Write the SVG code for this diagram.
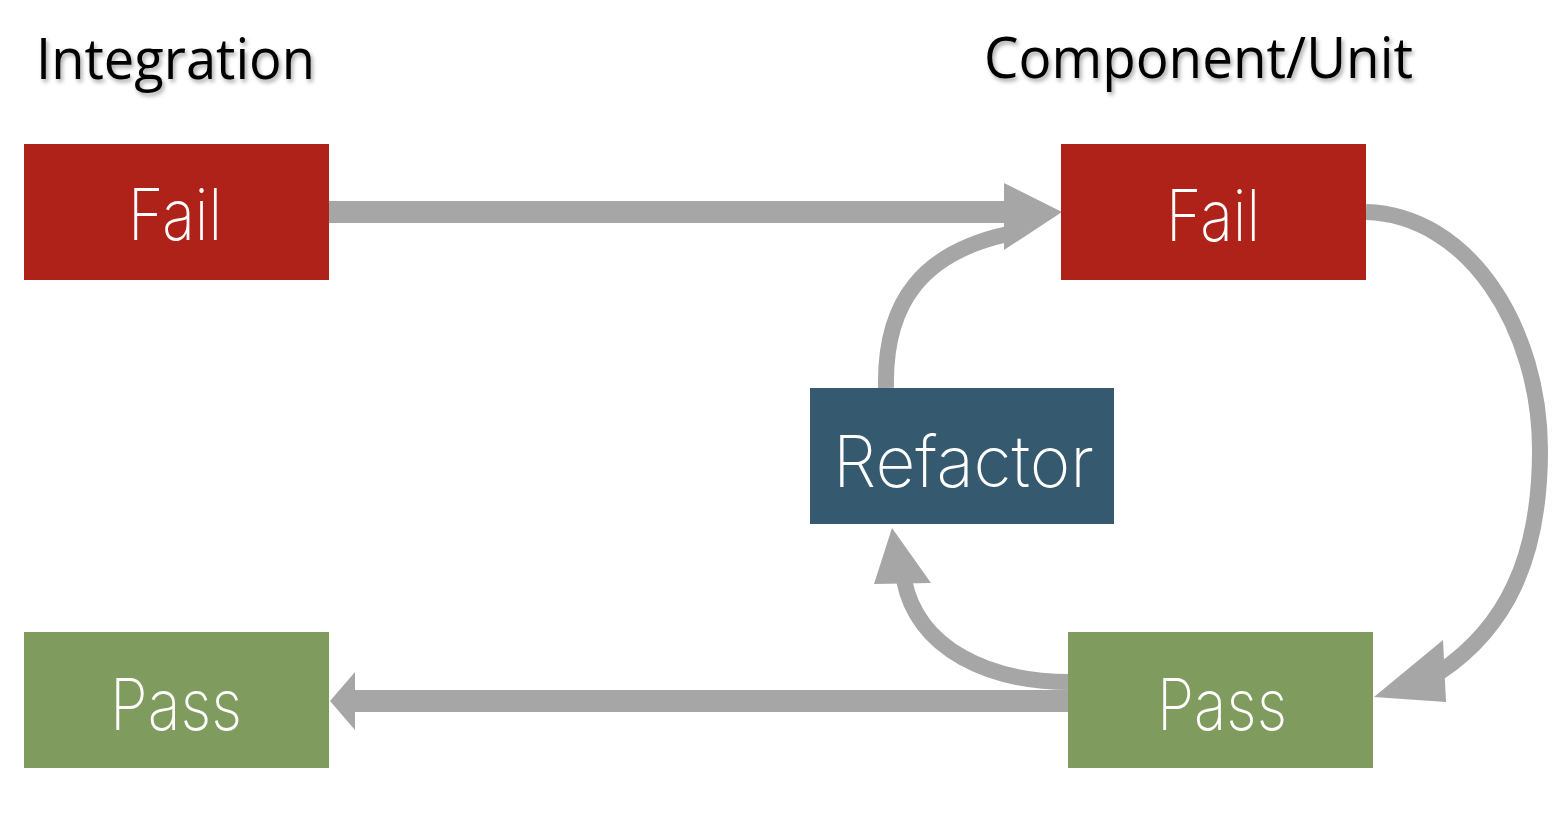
<svg xmlns="http://www.w3.org/2000/svg" width="1566" height="820" viewBox="0 0 1566 820">
<defs>
<filter id="shadow" x="-10%" y="-30%" width="120%" height="160%">
<feDropShadow dx="2" dy="3" stdDeviation="2" flood-color="#000" flood-opacity="0.35"/>
</filter>
</defs>
<style>
.title{font-family:"Open Sans","Liberation Sans",sans-serif;font-size:57px;fill:#000;filter:url(#shadow)}
.lbl{font-family:Inter,"Open Sans","Liberation Sans",sans-serif;font-weight:200;font-size:72px;fill:#fff}
.fail{fill:#AF2219}
.pass{fill:#7F9B5D}
.refac{fill:#355A6F}
.shaft{fill:none;stroke:#A6A6A6;stroke-width:16}
.head{fill:#A6A6A6}
.bar{fill:#A6A6A6}
</style>
<rect width="1566" height="820" fill="#fff"/>
<text class="title" x="36" y="79" textLength="279" lengthAdjust="spacingAndGlyphs">Integration</text>
<text class="title" x="984" y="78" textLength="429" lengthAdjust="spacingAndGlyphs">Component/Unit</text>
<g id="connectors">
<rect class="bar" x="329" y="201" width="677" height="22"/>
<polygon class="head" points="1004,183 1062,212 1004,250"/>
<path class="shaft" d="M 886 388 C 884 300 925 252 1008 234"/>
<path class="shaft" d="M 1366 212 C 1470 215 1540 330 1540 450 C 1540 560 1505 628 1440 672"/>
<polygon class="head" points="1374,697 1443,640 1446,702"/>
<path class="shaft" d="M 1070 682 C 990 682 918 650 904 580"/>
<polygon class="head" points="892,528 874,584 931,583"/>
<rect class="bar" x="353" y="690" width="717" height="22"/>
<polygon class="head" points="330,701 355,672 355,730"/>
</g>
<g id="int-fail">
<rect class="fail" x="24" y="144" width="305" height="136"/>
<text class="lbl" x="128" y="240" textLength="94" lengthAdjust="spacingAndGlyphs">Fail</text>
</g>
<g id="comp-fail">
<rect class="fail" x="1061" y="144" width="305" height="136"/>
<text class="lbl" x="1166" y="241" textLength="94" lengthAdjust="spacingAndGlyphs">Fail</text>
</g>
<g id="refactor">
<rect class="refac" x="810" y="388" width="304" height="136"/>
<text class="lbl" x="833" y="487" textLength="261" lengthAdjust="spacingAndGlyphs">Refactor</text>
</g>
<g id="int-pass">
<rect class="pass" x="24" y="632" width="305" height="136"/>
<text class="lbl" x="110" y="730" textLength="132" lengthAdjust="spacingAndGlyphs">Pass</text>
</g>
<g id="comp-pass">
<rect class="pass" x="1068" y="632" width="305" height="136"/>
<text class="lbl" x="1157" y="730" textLength="130" lengthAdjust="spacingAndGlyphs">Pass</text>
</g>
</svg>
